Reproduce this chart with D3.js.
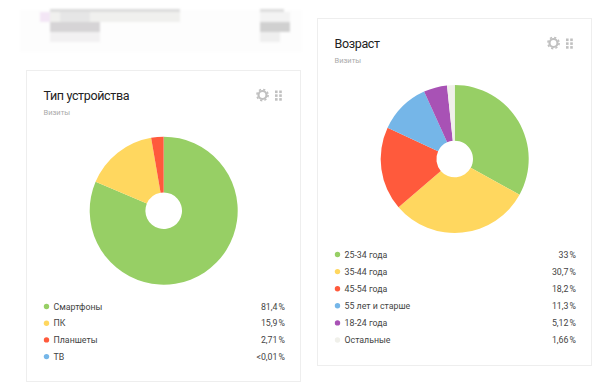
<!DOCTYPE html>
<html>
<head>
<meta charset="utf-8">
<script src="https://cdn.jsdelivr.net/npm/d3@7"></script>
<style>
body { margin: 0; background: #fff; font-family: Roboto, sans-serif; }
.card { fill: #fff; stroke: #eeeeee; stroke-width: 1; }
.title { font-size: 12.5px; letter-spacing: -0.35px; fill: #222; }
.sub { font-size: 7.5px; fill: #aaa; }
.lbl { font-size: 8.8px; fill: #444; }
</style>
</head>
<body>
<div id="chart"></div>
<script>
var deviceNames = ["Смартфоны", "ПК", "Планшеты", "ТВ"];
var deviceValues = [81.4, 15.9, 2.71, 0.01];
var deviceLabels = ["81,4\u202f%", "15,9\u202f%", "2,71\u202f%", "<0,01\u202f%"];
var deviceColors = ["#97cf65", "#ffd75f", "#ff5a3c", "#75b6e8"];

var ageNames = ["25-34 года", "35-44 года", "45-54 года", "55 лет и старше", "18-24 года", "Остальные"];
var ageValues = [33, 30.7, 18.2, 11.3, 5.12, 1.66];
var ageLabels = ["33\u202f%", "30,7\u202f%", "18,2\u202f%", "11,3\u202f%", "5,12\u202f%", "1,66\u202f%"];
var ageColors = ["#97cf65", "#ffd75f", "#ff5a3c", "#75b6e8", "#a852b5", "#f0f0ea"];

var svg = d3.select("#chart").append("svg")
    .attr("width", 602)
    .attr("height", 391);

// redacted text at the top of the screenshot
var blur = svg.append("defs").append("filter").attr("id", "blur");
blur.append("feGaussianBlur").attr("stdDeviation", 0.8);
var patches = [
    [20, 10, 282, 42, "#fdfdfd"],
    [50, 9, 130, 3, "#dcdcdc"], [40, 12, 140, 10, "#f0f0ee"], [40, 12, 10, 10, "#f3e6f5"],
    [60, 12, 30, 10, "#e6e6e6"],
    [50, 22, 50, 10, "#d6d4d6"], [50, 32, 50, 10, "#f2f1f2"],
    [260, 9, 24, 3, "#dddddd"], [260, 12, 30, 10, "#f3f3f3"],
    [260, 22, 30, 10, "#d0d0d0"], [260, 32, 20, 10, "#efefef"]
];
svg.append("g").attr("filter", "url(#blur)")
    .selectAll("rect").data(patches).enter().append("rect")
    .attr("x", function (d) { return d[0]; })
    .attr("y", function (d) { return d[1]; })
    .attr("width", function (d) { return d[2]; })
    .attr("height", function (d) { return d[3]; })
    .attr("fill", function (d) { return d[4]; });

function drawCard(o) {
    var g = svg.append("g").attr("transform", "translate(" + o.x + "," + o.y + ")");
    g.append("rect").attr("class", "card")
        .attr("width", o.w).attr("height", o.h);
    g.append("text").attr("class", "title").attr("x", 17).attr("y", 29).text(o.title);
    g.append("text").attr("class", "sub").attr("x", 17).attr("y", 44.5).text("Визиты");

    // settings icon
    var icon = g.append("g").attr("transform", "translate(" + (o.w - 38) + ",24.5)");
    icon.append("circle").attr("r", 4).attr("fill", "none").attr("stroke", "#c0c0c0").attr("stroke-width", 2.2);
    icon.append("circle").attr("r", 5.6).attr("fill", "none").attr("stroke", "#c0c0c0")
        .attr("stroke-width", 1.6).attr("stroke-dasharray", "2.2 2.2");
    var dots = d3.range(6);
    g.selectAll(".dot").data(dots).enter().append("rect")
        .attr("x", function (d) { return o.w - 25.5 + (d % 2) * 4.2; })
        .attr("y", function (d) { return 20 + Math.floor(d / 2) * 3.8; })
        .attr("width", 2.6).attr("height", 2.6)
        .attr("fill", "#c0c0c0");

    // pie
    var pie = d3.pie().sort(null)(o.values);
    var arc = d3.arc().innerRadius(18.3).outerRadius(74);
    g.append("g").attr("transform", "translate(" + o.cx + "," + o.cy + ")")
        .selectAll("path").data(pie).enter().append("path")
        .attr("d", arc)
        .attr("fill", function (d, i) { return o.colors[i]; });

    // legend
    var y = d3.scalePoint().domain(o.names).range([o.legendTop, o.legendTop + (o.names.length - 1) * o.step]);
    g.selectAll(".swatch").data(o.names).enter().append("circle")
        .attr("cx", 20).attr("r", 2.7)
        .attr("cy", function (d) { return y(d); })
        .attr("fill", function (d, i) { return o.colors[i]; });
    g.selectAll(".name").data(o.names).enter().append("text")
        .attr("class", "lbl").attr("x", 27)
        .attr("y", function (d) { return y(d) + 3.2; })
        .text(function (d) { return d; });
    g.selectAll(".pct").data(o.labels).enter().append("text")
        .attr("class", "lbl").attr("x", o.w - 15.5).attr("text-anchor", "end")
        .attr("y", function (d, i) { return y(o.names[i]) + 3.2; })
        .text(function (d) { return d; });
}

drawCard({ x: 26.5, y: 70.5, w: 274, h: 311, cx: 137.2, cy: 140.2, title: "Тип устройства",
    names: deviceNames, values: deviceValues, labels: deviceLabels, colors: deviceColors, legendTop: 236, step: 16.7 });
drawCard({ x: 317.5, y: 18.5, w: 274, h: 347, cx: 137.2, cy: 140.5, title: "Возраст",
    names: ageNames, values: ageValues, labels: ageLabels, colors: ageColors, legendTop: 236, step: 17.1 });
</script>
</body>
</html>
